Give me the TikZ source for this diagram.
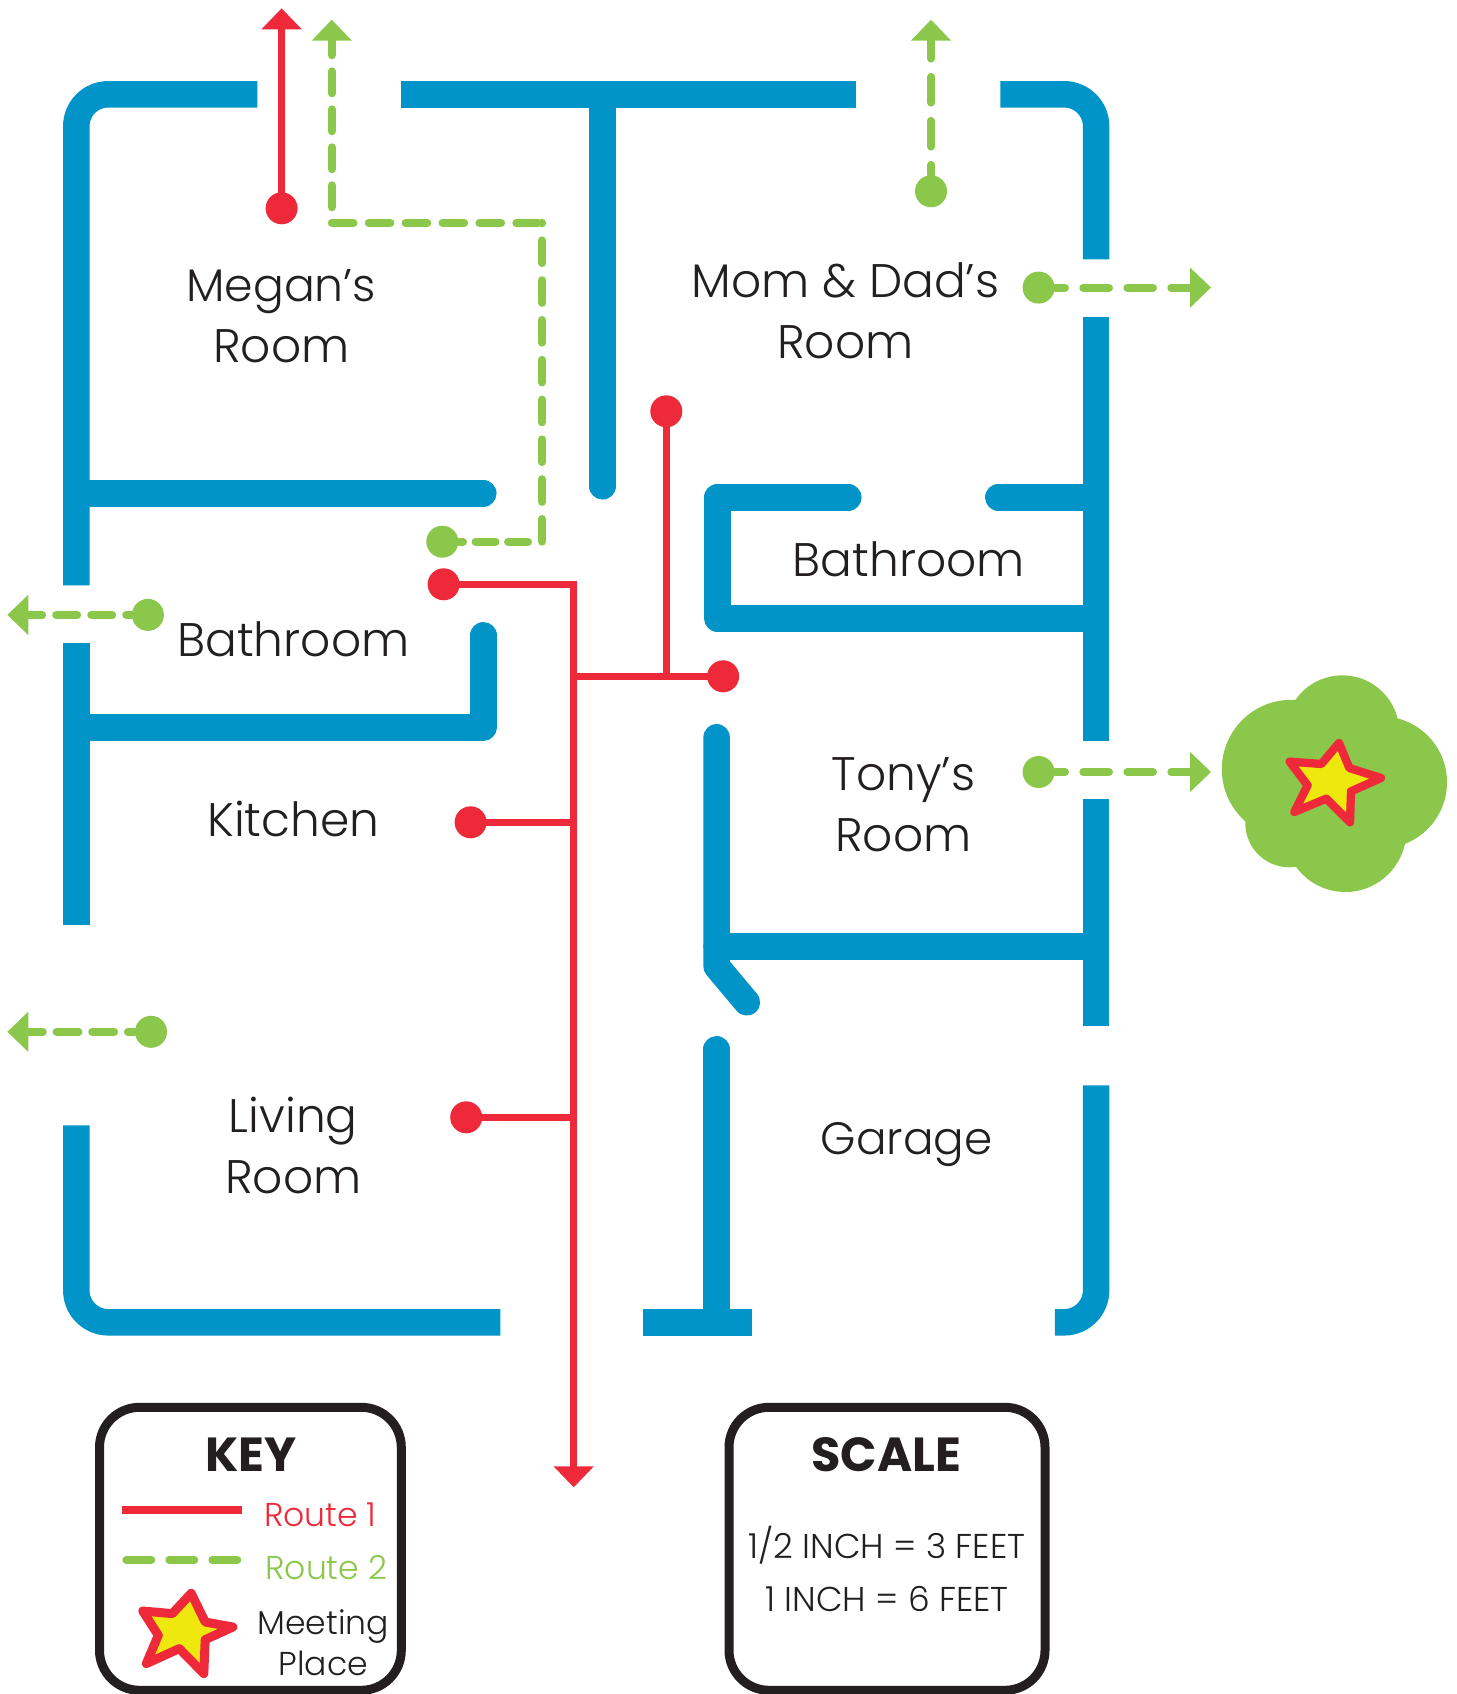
\documentclass[tikz,border=0pt]{standalone}
\usepackage{fontspec}
\setmainfont{Poppins Light}[BoldFont={Poppins Bold}]
\usetikzlibrary{arrows.meta}
\definecolor{wallblue}{HTML}{0094C9}
\definecolor{routered}{HTML}{EE2A3A}
\definecolor{routegreen}{HTML}{8BC74B}
\definecolor{staryellow}{HTML}{EEE80F}
\definecolor{inkdark}{HTML}{231F20}
\tikzset{
  wall/.style={draw=wallblue, line width=2.65mm, line join=round, rounded corners=3.2mm},
  stubwall/.style={wall, rounded corners=0pt, line cap=round},
  reddot/.style={circle, fill=routered, inner sep=0pt, minimum size=3.2mm},
  greendot/.style={circle, fill=routegreen, inner sep=0pt, minimum size=3.2mm},
  redroute/.style={draw=routered, line width=0.75mm},
  greenroute/.style={draw=routegreen, line width=0.8mm, line cap=round},
  longdash/.style={greenroute, dash pattern=on 2.57mm off 1.83mm, dash phase=1.6mm},
  exittip/.style={-{Triangle[length=2.1mm, width=3.9mm]}},
  roomlabel/.style={anchor=base, inner sep=0pt, align=center, text=inkdark,
    font=\fontsize{13.4}{17.36}\selectfont},
  keytext/.style={anchor=base, inner sep=0pt, align=center, text=inkdark,
    font=\fontsize{9.4}{11.66}\selectfont},
  scaletext/.style={keytext, font=\fontsize{9.8}{11.66}\selectfont},
  boxtitle/.style={anchor=base, inner sep=0pt, text=inkdark,
    font=\fontsize{13.6}{16}\selectfont\bfseries},
  keybox/.style={draw=inkdark, line width=0.9mm, rounded corners=4mm},
  starshape/.style={draw=routered, fill=staryellow, line join=round},
}
\begin{document}
\begin{tikzpicture}[x=0.1mm, y=-0.1mm]
    \useasboundingbox (-0.3,-0.3) rectangle (1455.7,1693.7);
    % Outer walls
    \draw[wall] (257,94) -- (76,94) -- (76,585);
    \draw[wall] (76,643) -- (76,925);
    \draw[wall] (76,1125) -- (76,1322) -- (500,1322);
    \draw[wall] (401,94) -- (856,94);
    \draw[wall] (1000,94) -- (1095.8,94) -- (1095.8,259);
    \draw[wall] (1095.8,316.5) -- (1095.8,741);
    \draw[wall] (1095.8,799) -- (1095.8,1026);
    \draw[wall] (1095.8,1085) -- (1095.8,1322) -- (1054.5,1322);
    \draw[wall] (643,1322) -- (752,1322);
    % Inner walls
    \draw[stubwall] (602.3,94) -- (602.3,486);
    \draw[stubwall] (76,493) -- (483,493);
    \draw[stubwall] (76,727) -- (483,727) -- (483,635);
    \draw[stubwall] (848,497) -- (717,497) -- (717,618) -- (1095,618);
    \draw[stubwall] (998,497) -- (1095,497);
    \draw[stubwall] (716.3,737) -- (716.3,966) -- (746.5,1002);
    \draw[stubwall] (716.3,946) -- (1095,946);
    \draw[stubwall] (716.3,1049) -- (716.3,1320);
    % Meeting place
    \fill[routegreen] (1342,732) circle (57) (1291,769) circle (69.5) (1380.7,782) circle (66)
      (1345,830.7) circle (61) (1289,823) circle (44) (1335,785) circle (50);
    \draw[starshape, line width=0.83mm] (1338.7,742.7) -- (1349,767.7) -- (1380.7,777.7) -- (1350.7,791)
      -- (1349.7,822) -- (1326,798.3) -- (1294,811.7) -- (1307.3,785) -- (1289.3,761.3) -- (1321,763.7) -- cycle;
    % Route 1
    \node[reddot] (meganred) at (281.3,208) {};
    \node[reddot] (bathred) at (443.3,584) {};
    \node[reddot] (tonyred) at (722.8,676) {};
    \node[reddot] (momred) at (666,411) {};
    \node[reddot] (kitchenred) at (470.3,822) {};
    \node[reddot] (livingred) at (465.9,1117) {};
    \coordinate (frontexit) at (281.3,8);
    \coordinate (backexit) at (573.4,1487);
    \coordinate (hallturn) at (573.4,584);
    \coordinate (hallmid) at (573.4,676);
    \coordinate (momturn) at (666,676);
    \coordinate (kitchenjoin) at (573.4,822);
    \coordinate (livingjoin) at (573.4,1117);
    \draw[redroute, exittip] (meganred.center) -- (frontexit);
    \draw[redroute, exittip] (bathred.center) -- (hallturn) -- (backexit);
    \draw[redroute] (tonyred.center) -- (hallmid);
    \draw[redroute] (momred.center) -- (momturn);
    \draw[redroute] (kitchenred.center) -- (kitchenjoin);
    \draw[redroute] (livingred.center) -- (livingjoin);
    % Route 2
    \node[greendot] (bathgreen) at (442,541.4) {};
    \node[greendot] (sidegreen) at (147.6,614.6) {};
    \node[greendot] (livinggreen) at (150.7,1031.5) {};
    \node[greendot] (momgreen) at (930.7,191) {};
    \node[greendot] (momsidegreen) at (1038.3,287.3) {};
    \node[greendot] (tonygreen) at (1038.3,771.7) {};
    \coordinate (bathturn) at (541.8,541.4);
    \coordinate (meganturn) at (541.8,222.5);
    \coordinate (upturn) at (331.5,222.5);
    \coordinate (upexit) at (331.5,19.4);
    \coordinate (sideexit) at (7,614.6);
    \coordinate (livingexit) at (7,1031.5);
    \coordinate (momexit) at (930.7,19.4);
    \coordinate (momsideexit) at (1210.7,287.3);
    \coordinate (tonyexit) at (1210.7,771.7);
    \draw[greenroute, dash pattern=on 2mm off 1.25mm, dash phase=1.6mm, shorten >=1.4mm] (bathgreen) -- (bathturn);
    \draw[greenroute, dash pattern=on 2.27mm off 1.71mm] (bathturn) -- (meganturn);
    \draw[greenroute, dash pattern=on 2.17mm off 1.52mm] (upturn) -- (meganturn);
    \draw[greenroute, exittip, dash pattern=on 2.2mm off 1.6mm, dash phase=2.25mm] (upturn) -- (upexit);
    \draw[greenroute, exittip, dash pattern=on 2.1mm off 1.4mm, dash phase=1.6mm] (sidegreen) -- (sideexit);
    \draw[greenroute, exittip, dash pattern=on 2.2mm off 1.37mm, dash phase=1.56mm] (livinggreen) -- (livingexit);
    \draw[longdash, exittip] (momgreen) -- (momexit);
    \draw[longdash, exittip] (momsidegreen) -- (momsideexit);
    \draw[longdash, exittip] (tonygreen) -- (tonyexit);
    % Rooms
    \node[roomlabel] (megan) at (281,362.6) {{\fontsize{13}{17.36}\selectfont Megan’s}\\Room};
    \node[roomlabel] (parents) at (845,358) {Mom \& Dad’s\\Room};
    \node[roomlabel] (bathright) at (908.6,576) {Bathroom};
    \node[roomlabel] (bathleft) at (293,656.4) {Bathroom};
    \node[roomlabel] (kitchen) at (293,836) {Kitchen};
    \node[roomlabel] (tony) at (903,851) {Tony’s\\Room};
    \node[roomlabel, font=\fontsize{12.9}{17.36}\selectfont] (garage) at (906.5,1154) {Garage};
    \node[roomlabel] (living) at (293,1193) {Living\\Room};
    % Key
    \draw[keybox] (99.2,1407) rectangle (401,1690);
    \node[boxtitle] (keytitle) at (250.9,1470.7) {KEY};
    \coordinate (keyredl) at (122,1509.7);
    \coordinate (keyredr) at (242,1509.7);
    \coordinate (keygreenl) at (126,1559.5);
    \coordinate (keygreenr) at (237,1559.5);
    \draw[redroute, line width=0.87mm] (keyredl) -- (keyredr);
    \draw[greenroute, dash pattern=on 2.5mm off 1.8mm] (keygreenl) -- (keygreenr);
    \node[keytext, text=routered] (route1) at (320,1526) {Route 1};
    \node[keytext, text=routegreen] (route2) at (326,1579) {Route 2};
    \draw[starshape, line width=0.9mm] (190.9,1593) -- (204.9,1621.7) -- (232.6,1626.7) -- (204.9,1639.3)
      -- (203.5,1673.3) -- (179,1648.3) -- (146,1663.3) -- (158,1635) -- (142.5,1610.7) -- (172,1613.3) -- cycle;
    \node[keytext] (meeting) at (323,1675.5) {Meeting\\Place};
    % Scale
    \draw[keybox] (728.7,1407) rectangle (1044.7,1690);
    \node[boxtitle] (scaletitle) at (886,1470.7) {SCALE};
    \node[scaletext] (halfinch) at (886.6,1558.3) {1/2 INCH = 3 FEET};
    \node[scaletext] (oneinch) at (886.7,1611) {1 INCH = 6 FEET};
\end{tikzpicture}
\end{document}
